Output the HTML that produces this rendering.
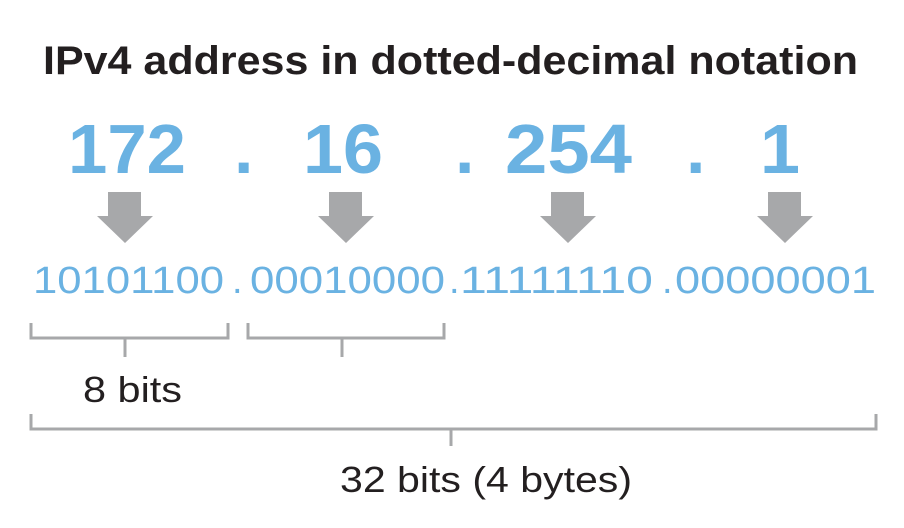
<!DOCTYPE html>
<html><head><meta charset="utf-8"><style>
html,body{margin:0;padding:0;background:#fff;width:904px;height:528px;overflow:hidden}
svg{display:block}
text{font-family:"Liberation Sans",sans-serif}
</style></head><body>
<svg width="904" height="528" viewBox="0 0 904 528">
<text x="43" y="74" font-size="40" font-weight="bold" fill="#231f20" textLength="815" lengthAdjust="spacingAndGlyphs">IPv4 address in dotted-decimal notation</text>
<g fill="#6ab2e2" font-weight="bold" font-size="70">
<text x="68" y="173" textLength="118" lengthAdjust="spacingAndGlyphs">172</text>
<text x="234" y="173">.</text>
<text x="303" y="173" textLength="80" lengthAdjust="spacingAndGlyphs">16</text>
<text x="455" y="173">.</text>
<text x="505" y="173" textLength="127" lengthAdjust="spacingAndGlyphs">254</text>
<text x="686" y="173">.</text>
<text x="760" y="173" textLength="40" lengthAdjust="spacingAndGlyphs">1</text>
</g>
<g fill="#a7a8aa">
<polygon points="108,192 141,192 141,216 153,216 125,243 97,216 108,216"/>
<polygon points="329,192 362,192 362,216 374,216 346,243 318,216 329,216"/>
<polygon points="551,192 584,192 584,216 596,216 568,243 540,216 551,216"/>
<polygon points="768,192 801,192 801,216 813,216 785,243 757,216 768,216"/>
</g>
<g fill="#6ab2e2" font-size="38">
<text x="33" y="293" textLength="191" lengthAdjust="spacingAndGlyphs">10101100</text>
<text x="232" y="293">.</text>
<text x="250" y="293" textLength="195" lengthAdjust="spacingAndGlyphs">00010000</text>
<text x="449" y="293">.</text>
<text x="460" y="293" textLength="193" lengthAdjust="spacingAndGlyphs">11111110</text>
<text x="662" y="293">.</text>
<text x="675" y="293" textLength="201" lengthAdjust="spacingAndGlyphs">00000001</text>
</g>
<g fill="none" stroke="#a7a8aa" stroke-width="3">
<path d="M31,323 V338 H228 V323 M125,338 V357"/>
<path d="M248,323 V338 H444 V323 M342,338 V357"/>
<path d="M31,414 V429 H876 V414 M451,429 V446"/>
</g>
<text x="83" y="402" font-size="36" fill="#231f20" textLength="99" lengthAdjust="spacingAndGlyphs">8 bits</text>
<text x="340" y="492" font-size="36" fill="#231f20" textLength="292" lengthAdjust="spacingAndGlyphs">32 bits (4 bytes)</text>
</svg>
</body></html>
